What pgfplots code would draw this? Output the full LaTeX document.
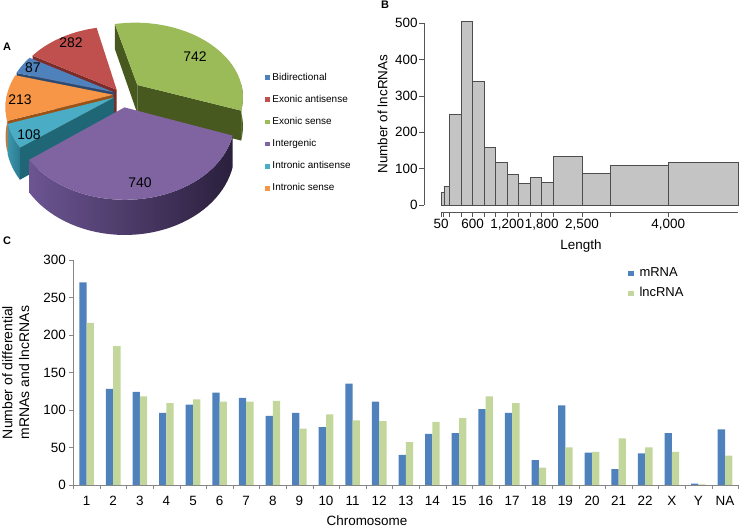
\documentclass[border=0pt]{standalone}
\usepackage{fontspec}
\setmainfont{Liberation Sans}
\usepackage{pgfplots}
\pgfplotsset{compat=1.18}
\pgfplotsset{sqlegend/.style={legend image code/.code={\fill[##1] (0bp,-2.85bp) rectangle (5.7bp,2.85bp); \path (8.2bp,0bp);}}}

\definecolor{cBlue}{HTML}{4F81BD}
\definecolor{cRed}{HTML}{C0504D}
\definecolor{cGreen}{HTML}{9BBB59}
\definecolor{cPurple}{HTML}{8064A2}
\definecolor{cCyan}{HTML}{4BACC6}
\definecolor{cOrange}{HTML}{F79646}
\definecolor{wBlue}{HTML}{2C4A70}
\definecolor{wRed}{HTML}{7B2B29}
\definecolor{wGreen}{HTML}{47591F}
\definecolor{wGreenL}{HTML}{5A7230}
\definecolor{wGreenR}{HTML}{3A4A18}
\definecolor{wPurpleL}{HTML}{6C5592}
\definecolor{wPurpleR}{HTML}{2A1F3C}
\definecolor{wCyan}{HTML}{1F6676}
\definecolor{wCyanL}{HTML}{3C96AE}
\definecolor{wCyanR}{HTML}{2A7A8E}
\definecolor{wOrange}{HTML}{9A5216}
\definecolor{wOrangeL}{HTML}{D67A2C}
\definecolor{wOrangeR}{HTML}{B8661F}
\definecolor{mBlue}{HTML}{4F81BD}
\definecolor{lGreen}{HTML}{C3D69B}
\definecolor{axgray}{HTML}{868686}
\definecolor{rgray}{HTML}{555555}
\definecolor{barfill}{HTML}{C4C4C4}
\definecolor{baredge}{HTML}{4D4D4D}

% pie projection parameters (image px)
\def\CX{121.7}\def\CY{94.6}\def\PA{106.2}\def\PB{74.3}\def\PP{0.15}\def\PD{29}

\newcommand\topface[4]{%
 \addplot[fill=#4, draw=none, forget plot, samples at={0,...,41}, variable=\t]
 ({pxx(ex(#1,#2,#3)+rr(\t)*sin(ta(#1,#2,\t)), ew(#1,#2,#3)-rr(\t)*cos(ta(#1,#2,\t)))},
  {pyy(ex(#1,#2,#3)+rr(\t)*sin(ta(#1,#2,\t)), ew(#1,#2,#3)-rr(\t)*cos(ta(#1,#2,\t)), 0)});
}
\newcommand\radface[5]{%
 \addplot[fill=#5, draw=none, forget plot, samples at={0,1,2,3}, variable=\t]
 ({pxx(ex(#2,#3,#4)+rf(\t)*sin(#1), ew(#2,#3,#4)-rf(\t)*cos(#1))},
  {pyy(ex(#2,#3,#4)+rf(\t)*sin(#1), ew(#2,#3,#4)-rf(\t)*cos(#1), (\t>1.5)*\PD)});
}
\newcommand\outwall[7]{%
 \addplot[draw=none, left color=#6, right color=#7, forget plot, samples at={0,...,81}, variable=\t]
 ({pxx(ex(#3,#4,#5)+sin(tw(#1,#2,\t)), ew(#3,#4,#5)-cos(tw(#1,#2,\t)))},
  {pyy(ex(#3,#4,#5)+sin(tw(#1,#2,\t)), ew(#3,#4,#5)-cos(tw(#1,#2,\t)), (\t>40.5)*\PD)});
}

\begin{document}
\begin{tikzpicture}
\useasboundingbox (0,0) rectangle (744bp,529bp);

% pie values
\def\vBi{87}\def\vEa{282}\def\vEs{742}\def\vIg{740}\def\vIa{108}\def\vIs{213}
\pgfmathsetmacro\tot{\vBi+\vEa+\vEs+\vIg+\vIa+\vIs}
\pgfmathsetmacro\gA{-13}
\pgfmathsetmacro\gB{\gA+\vEs/\tot*360}
\pgfmathsetmacro\pB{\gB+\vIg/\tot*360}
\pgfmathsetmacro\cB{\pB+\vIa/\tot*360}
\pgfmathsetmacro\oB{\cB+\vIs/\tot*360}
\pgfmathsetmacro\bB{\oB+\vBi/\tot*360}
\pgfmathsetmacro\rB{\bB+\vEa/\tot*360}

% ---------------- Panel A: pie ----------------
\begin{axis}[at={(0bp,529bp)}, anchor=north west, scale only axis,
  width=260bp, height=250bp, xmin=0, xmax=260, ymin=-250, ymax=0,
  hide axis, clip=false,
  declare function={
    ex(\qlo,\qhi,\qe)=\qe*sin((\qlo+\qhi)/2);
    ew(\qlo,\qhi,\qe)=-\qe*cos((\qlo+\qhi)/2);
    pxx(\qu,\qw)=\CX+\PA*\qu/(1-\PP*\qw);
    pyy(\qu,\qw,\qz)=-(\CY+(\PB*\qw+\qz)/(1-\PP*\qw));
    rr(\qs)=(\qs<40.5);
    ta(\qa,\qb,\qs)=\qa+(\qb-(\qa))*(\qs-(\qs>40.5))/40;
    rf(\qs)=(\qs>0.5)*(\qs<2.5);
    tw(\qa,\qb,\qs)=\qa+(\qb-(\qa))*((\qs<40.5)*\qs+(\qs>40.5)*(81-\qs))/40;
  },
  legend image code/.code={\fill[#1] (0bp,-2.4bp) rectangle (4.8bp,2.4bp);},
  legend style={draw=none, fill=none, inner sep=0pt, at={(axis cs:264.5,-69.5)}, anchor=north west,
    font=\fontsize{10}{12}\selectfont, row sep=6bp,
    nodes={text height=7.8bp, text depth=2.3bp, inner sep=3bp}},
  legend cell align=left]
 % red (Exonic antisense)
 \radface{\bB}{\bB}{\rB}{0.08}{wRed}
 \topface{\bB}{\rB}{0.08}{cRed}
 % green (Exonic sense)
 \radface{\gA}{\gA}{\gB}{0.2}{wGreen}
 \radface{\gB}{\gA}{\gB}{0.2}{wGreen}
 \outwall{90}{\gB}{\gA}{\gB}{0.2}{wGreenL}{wGreenR}
 \topface{\gA}{\gB}{0.2}{cGreen}
 % blue (Bidirectional)
 \radface{\oB}{\oB}{\bB}{0.08}{wBlue}
 \topface{\oB}{\bB}{0.08}{cBlue}
 % orange (Intronic sense)
 \radface{\cB}{\cB}{\oB}{0.08}{wOrange}
 \outwall{\cB}{270}{\cB}{\oB}{0.08}{wOrangeL}{wOrangeR}
 \topface{\cB}{\oB}{0.08}{cOrange}
 % cyan (Intronic antisense)
 \radface{\pB}{\pB}{\cB}{0.08}{wCyan}
 \outwall{\pB}{\cB}{\pB}{\cB}{0.08}{wCyanL}{wCyanR}
 \topface{\pB}{\cB}{0.08}{cCyan}
 % purple (Intergenic)
 \outwall{\gB}{\pB}{\gB}{\pB}{0.17}{wPurpleL}{wPurpleR}
 \topface{\gB}{\pB}{0.17}{cPurple}
 % value labels
 \begin{scope}[font=\fontsize{14}{16}\selectfont]
 \node at (axis cs:195,-57) {742};
 \node at (axis cs:71,-43) {282};
 \node at (axis cs:33,-68) {87};
 \node at (axis cs:20,-100) {213};
 \node at (axis cs:29,-135) {108};
 \node at (axis cs:140,-183) {740};
 \end{scope}
 \addlegendimage{fill=cBlue, draw=none}\addlegendentry{Bidirectional}
 \addlegendimage{fill=cRed, draw=none}\addlegendentry{Exonic antisense}
 \addlegendimage{fill=cGreen, draw=none}\addlegendentry{Exonic sense}
 \addlegendimage{fill=cPurple, draw=none}\addlegendentry{Intergenic}
 \addlegendimage{fill=cCyan, draw=none}\addlegendentry{Intronic antisense}
 \addlegendimage{fill=cOrange, draw=none}\addlegendentry{Intronic sense}
\end{axis}

% ---------------- Panel B: histogram ----------------
\begin{axis}[at={(441bp,324bp)}, anchor=south west, scale only axis,
  width=297.3bp, height=181.7bp,
  xmin=50, xmax=5216, ymin=0, ymax=500, clip=false,
  axis x line=bottom, axis y line=left,
  axis line style={draw=rgray, line width=0.8bp, -},
  axis x line shift=7.3bp, axis y line shift=16.7bp,
  tick align=outside, major tick length=5bp, minor tick length=5bp,
  tick style={draw=rgray, line width=0.8bp},
  xtick={50,600,1200,1800,2500,4000},
  xticklabels={50,600,{1,200},{1,800},{2,500},{4,000}},
  minor xtick={100,200,400,800,1000,1400,1600,2000,3000},
  ytick={0,100,...,500},
  /pgf/number format/assume math mode=true,
  tick label style={font=\fontsize{13.5}{15}\selectfont},
  yticklabel style={inner sep=1.5bp},
  xticklabel style={inner sep=2bp},
  xlabel={Length}, ylabel={Number of lncRNAs},
  every axis x label/.style={at={(axis description cs:0.5,0)}, xshift=-8.7bp, yshift=-41bp, anchor=center, font=\fontsize{13.5}{15}\selectfont},
  every axis y label/.style={at={(axis description cs:0,0.5)}, xshift=-58.5bp, rotate=90, anchor=center, font=\fontsize{13.5}{15}\selectfont}]
 \addplot[ybar interval, fill=barfill, draw=baredge, line width=0.7bp] coordinates {
  (50,34) (100,52) (200,250) (400,504) (600,339) (800,159) (1000,117) (1200,85)
  (1400,60) (1600,77) (1800,63) (2000,133) (2500,86) (3000,109) (4000,117) (5216,117)};
\end{axis}

% ---------------- Panel C: grouped bars ----------------
\begin{axis}[at={(73.3bp,44bp)}, anchor=south west, scale only axis,
  width=665bp, height=225bp,
  xmin=-0.5, xmax=24.5, ymin=0, ymax=300,
  ybar=0pt, bar width=7.3bp,
  axis x line=bottom, axis y line=left,
  axis line style={draw=axgray, -},
  tick align=outside, major tick length=4bp, minor tick length=4bp,
  xtick={0,...,24},
  xticklabels={1,2,3,4,5,6,7,8,9,10,11,12,13,14,15,16,17,18,19,20,21,22,X,Y,NA},
  minor xtick={-0.5,0.5,...,24.5},
  major x tick style={draw=none},
  minor x tick style={draw=axgray},
  major y tick style={draw=axgray},
  ytick={0,50,...,300},
  /pgf/number format/assume math mode=true,
  tick label style={font=\fontsize{13.5}{15}\selectfont},
  xticklabel style={yshift=-4bp},
  xlabel={Chromosome},
  ylabel={Number of differential\\mRNAs and lncRNAs},
  every axis x label/.style={at={(axis description cs:0,0)}, xshift=293.7bp, yshift=-36bp, anchor=center, font=\fontsize{13.5}{15}\selectfont},
  every axis y label/.style={at={(axis description cs:0,0.5)}, xshift=-57.6bp, rotate=90, anchor=center, align=center, font=\fontsize{14}{16.7}\selectfont},
  legend style={draw=none, fill=none, inner sep=0pt, at={(axis cs:20.36,294.3)}, anchor=north west,
    font=\fontsize{13}{15}\selectfont, row sep=2bp,
    nodes={text height=9.5bp, text depth=2.5bp, inner sep=3bp}},
  legend cell align=left]
 \addplot[fill=mBlue, draw=none, sqlegend]
  coordinates {(0,270) (1,128) (2,124) (3,96) (4,107) (5,123) (6,116) (7,92) (8,96) (9,77)
   (10,135) (11,111) (12,40) (13,68) (14,69) (15,101) (16,96) (17,33) (18,106) (19,43)
   (20,21) (21,42) (22,69) (23,2) (24,74)};
 \addlegendentry{mRNA}
 \addplot[fill=lGreen, draw=none, sqlegend]
  coordinates {(0,216) (1,185) (2,118) (3,109) (4,114) (5,111) (6,111) (7,112) (8,75) (9,94)
   (10,86) (11,85) (12,57) (13,84) (14,89) (15,118) (16,109) (17,23) (18,50) (19,44)
   (20,62) (21,50) (22,44) (23,1) (24,39)};
 \addlegendentry{lncRNA}
\end{axis}

% panel letters
\node[font=\fontsize{11}{12}\bfseries\selectfont] at (7bp,482bp) {A};
\node[font=\fontsize{11}{12}\bfseries\selectfont] at (385bp,524bp) {B};
\node[font=\fontsize{11}{12}\bfseries\selectfont] at (7bp,288bp) {C};
\end{tikzpicture}
\end{document}
